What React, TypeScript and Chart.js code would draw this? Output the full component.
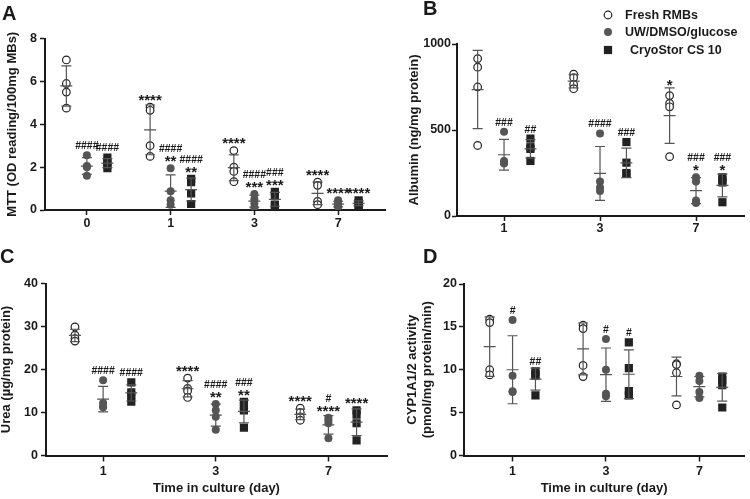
import React, { useEffect, useRef } from "react";
import { Chart, registerables } from "chart.js";

Chart.register(...registerables);

// ---------- data ----------
const seriesNames = ["Fresh RMBs", "UW/DMSO/glucose", "CryoStor CS 10"];
const daysA = ["0", "1", "3", "7"];
const daysBCD = ["1", "3", "7"];

// Panel A: MTT (per day: replicate values)
const freshA = [[7.0, 5.9, 5.5, 4.75], [4.8, 4.65, 3.0, 2.5], [2.77, 2.0, 1.8, 1.32], [1.3, 1.15, 0.4, 0.25]];
const uwA = [[2.55, 2.05, 2.0, 1.6], [1.95, 0.88, 0.45, 0.25], [0.75, 0.5, 0.3, 0.1], [0.45, 0.3, 0.2, 0.15]];
const cryoA = [[2.45, 2.25, 2.1, 1.95], [1.45, 1.3, 0.78, 0.28], [0.85, 0.7, 0.25, 0.2], [0.45, 0.35, 0.25, 0.2]];
const sigA = [["", "####", "####"], ["****", "####\n**", "####\n**"], ["****", "####\n***", "###\n***"], ["****", "****", "****"]];

// Panel B: Albumin
const freshB = [[915, 865, 750, 410], [825, 805, 765, 740], [700, 655, 635, 345]];
const uwB = [[490, 320, 310, 305], [480, 200, 165, 145], [225, 200, 90, 75]];
const cryoB = [[450, 400, 390, 320], [430, 310, 250, 245], [225, 210, 195, 80]];
const sigB = [["", "###", "##"], ["", "####", "###"], ["*", "###\n*", "###\n*"]];

// Panel C: Urea
const freshC = [[29.9, 28.0, 27.2, 26.6], [18.0, 15.6, 15.0, 13.5], [11.0, 10.0, 9.0, 8.2]];
const uwC = [[17.5, 12.2, 11.5, 11.2], [12.0, 10.5, 9.0, 6.0], [8.8, 8.2, 7.5, 4.0]];
const cryoC = [[17.0, 14.7, 14.0, 12.5], [12.5, 11.5, 10.5, 6.5], [10.5, 9.5, 7.5, 3.5]];
const sigC = [["", "####", "####"], ["****", "####\n**", "###\n**"], ["****", "#\n****", "****"]];

// Panel D: CYP1A1/2
const freshD = [[15.9, 15.5, 10.0, 9.4], [15.2, 14.8, 10.5, 9.2], [10.7, 10.6, 9.65, 5.9]];
const uwD = [[15.8, 9.3, 7.5, 7.4], [13.6, 10.0, 7.2, 6.9], [9.3, 8.7, 7.4, 6.7]];
const cryoD = [[9.8, 9.5, 9.3, 7.0], [13.2, 10.2, 7.5, 7.0], [9.2, 8.8, 8.2, 5.6]];
const sigD = [["", "#", "##"], ["", "#", "#"], ["", "", ""]];

// ---------- styling ----------
const FONT = "'Liberation Sans', Arial, Helvetica, sans-serif";
const INK = "#1a1a1a";
const BAR = "#555555";

const markers = [
  { pointStyle: "circle", radius: 3.8, bg: "#ffffff", border: "#222222", bw: 1.2, half: 4.4 },
  { pointStyle: "circle", radius: 4, bg: "#555555", border: "#555555", bw: 0, half: 4 },
  { pointStyle: "rect", radius: 5.8, bg: "#222222", border: "#222222", bw: 0, half: 4.1 },
];

type Panel = {
  letter: string;
  letterPos: [number, number];
  days: string[];
  series: number[][][];
  sig: string[][];
  yMin: number;
  yMax: number;
  yStep: number;
  yTitle: string | string[];
  yTitleLH: number;
  xTitle: string;
  area: { left: number; right: number; top: number; bottom: number };
  xMin: number;
  xMax: number;
  offset: number;
  yW: number;
  xH: number;
  xTick: { len: number; pad: number };
  yTick: { len: number; pad: number };
  legend: boolean;
};

const panels: Panel[] = [
  {
    letter: "A", letterPos: [2, 20], days: daysA, series: [freshA, uwA, cryoA], sig: sigA,
    yMin: 0, yMax: 8, yStep: 2, yTitle: "MTT (OD reading/100mg MBs)", yTitleLH: 1, xTitle: "",
    area: { left: 45, right: 385, top: 38.5, bottom: 210 }, xMin: -0.5, xMax: 3.56, offset: 0.245,
    yW: 39, xH: 30, xTick: { len: 5, pad: 1 }, yTick: { len: 5, pad: 3 }, legend: false,
  },
  {
    letter: "B", letterPos: [423, 15], days: daysBCD, series: [freshB, uwB, cryoB], sig: sigB,
    yMin: 0, yMax: 1000, yStep: 500, yTitle: "Albumin (ng/mg protein)", yTitleLH: 1, xTitle: "",
    area: { left: 457, right: 744, top: 44, bottom: 216 }, xMin: -0.49, xMax: 2.5, offset: 0.275,
    yW: 49.5, xH: 30, xTick: { len: 5, pad: 0 }, yTick: { len: 5, pad: 1 }, legend: true,
  },
  {
    letter: "C", letterPos: [0, 263], days: daysBCD, series: [freshC, uwC, cryoC], sig: sigC,
    yMin: 0, yMax: 40, yStep: 10, yTitle: "Urea (µg/mg protein)", yTitleLH: 1, xTitle: "Time in culture (day)",
    area: { left: 46, right: 387, top: 283.5, bottom: 455.5 }, xMin: -0.507, xMax: 2.52, offset: 0.25,
    yW: 46, xH: 40, xTick: { len: 6, pad: 3 }, yTick: { len: 5, pad: 3 }, legend: false,
  },
  {
    letter: "D", letterPos: [423, 263], days: daysBCD, series: [freshD, uwD, cryoD], sig: sigD,
    yMin: 0, yMax: 20, yStep: 5, yTitle: ["CYP1A1/2 activity", "(pmol/mg protein/min)"], yTitleLH: 1.15,
    xTitle: "Time in culture (day)",
    area: { left: 464, right: 747, top: 284, bottom: 455.5 }, xMin: -0.52, xMax: 2.48, offset: 0.245,
    yW: 59.5, xH: 40, xTick: { len: 6, pad: 3 }, yTick: { len: 5, pad: 2 }, legend: false,
  },
];

const W = 750;
const H = 499;

function mean(a: number[]) {
  return a.reduce((s, v) => s + v, 0) / a.length;
}
function sd(a: number[]) {
  const m = mean(a);
  return Math.sqrt(a.reduce((s, v) => s + (v - m) * (v - m), 0) / (a.length - 1));
}

function drawMarker(ctx: CanvasRenderingContext2D, s: number, x: number, y: number) {
  const mk = markers[s];
  ctx.save();
  if (mk.pointStyle === "rect") {
    const h = mk.radius * Math.SQRT1_2;
    ctx.fillStyle = mk.bg;
    ctx.fillRect(x - h, y - h, 2 * h, 2 * h);
  } else {
    ctx.beginPath();
    ctx.arc(x, y, mk.radius, 0, Math.PI * 2);
    ctx.fillStyle = mk.bg;
    ctx.fill();
    if (mk.bw > 0) {
      ctx.lineWidth = mk.bw;
      ctx.strokeStyle = mk.border;
      ctx.stroke();
    }
  }
  ctx.restore();
}

function overlayPlugin(p: Panel) {
  return {
    id: "overlay" + p.letter,
    afterDatasetsDraw(chart: any) {
      const ctx: CanvasRenderingContext2D = chart.ctx;
      const xs = chart.scales.x;
      const ys = chart.scales.y;
      ctx.save();
      p.series.forEach((ser, s) => {
        ser.forEach((pts, g) => {
          const m = mean(pts);
          const d = sd(pts);
          const cx = xs.getPixelForValue(g + (s - 1) * p.offset);
          const yT = ys.getPixelForValue(m + d);
          const yB = ys.getPixelForValue(m - d);
          const yM = ys.getPixelForValue(m);
          ctx.strokeStyle = BAR;
          ctx.lineWidth = 1.2;
          ctx.beginPath();
          ctx.moveTo(cx, yT);
          ctx.lineTo(cx, yB);
          ctx.moveTo(cx - 5, yT);
          ctx.lineTo(cx + 5, yT);
          ctx.moveTo(cx - 5, yB);
          ctx.lineTo(cx + 5, yB);
          ctx.moveTo(cx - 6, yM);
          ctx.lineTo(cx + 6, yM);
          ctx.stroke();

          const label = p.sig[g] ? p.sig[g][s] : "";
          if (label) {
            const lines = label.split("\n").reverse();
            let bottom = Math.min(ys.getPixelForValue(Math.max(...pts)) - markers[s].half, yT) - 2;
            ctx.fillStyle = INK;
            ctx.textAlign = "center";
            ctx.textBaseline = "alphabetic";
            for (const line of lines) {
              ctx.font = line.includes("*") ? `bold 15px ${FONT}` : `bold 10.5px ${FONT}`;
              const mt = ctx.measureText(line);
              const base = bottom - mt.actualBoundingBoxDescent;
              ctx.fillText(line, cx, base);
              bottom = base - mt.actualBoundingBoxAscent - 4;
            }
          }
        });
      });

      // panel letter
      ctx.fillStyle = INK;
      ctx.font = `bold 20px ${FONT}`;
      ctx.textAlign = "left";
      ctx.textBaseline = "alphabetic";
      ctx.fillText(p.letter, p.letterPos[0], p.letterPos[1]);

      // legend
      if (p.legend) {
        const rowsY = [15, 32, 50];
        const textX = [625, 625, 630];
        ctx.font = `bold 12.5px ${FONT}`;
        ctx.textBaseline = "middle";
        seriesNames.forEach((name, s) => {
          drawMarker(ctx, s, 608, rowsY[s]);
          ctx.fillStyle = INK;
          ctx.fillText(name, textX[s], rowsY[s] + 0.5);
        });
      }
      ctx.restore();
    },
  };
}

function makeConfig(p: Panel): any {
  const datasets = p.series.map((ser, s) => ({
    label: seriesNames[s],
    data: ser.flatMap((pts, g) => pts.map((v) => ({ x: g + (s - 1) * p.offset, y: v }))),
    pointStyle: markers[s].pointStyle,
    pointRadius: markers[s].radius,
    pointBackgroundColor: markers[s].bg,
    pointBorderColor: markers[s].border,
    pointBorderWidth: markers[s].bw,
    showLine: false,
  }));
  const tickFont = { family: FONT, size: 12.5, weight: "bold" as const };
  const gridCommon = {
    display: true,
    drawOnChartArea: false,
    drawTicks: true,
    tickWidth: 1.5,
    tickColor: INK,
    color: INK,
  };
  return {
    type: "scatter",
    data: { datasets },
    options: {
      responsive: false,
      animation: false,
      devicePixelRatio: 1,
      events: [],
      layout: {
        padding: {
          left: p.area.left - p.yW,
          right: W - p.area.right,
          top: p.area.top,
          bottom: H - p.area.bottom - p.xH,
        },
      },
      plugins: { legend: { display: false }, tooltip: { enabled: false } },
      scales: {
        x: {
          type: "linear",
          min: p.xMin,
          max: p.xMax,
          afterBuildTicks: (sc: any) => {
            sc.ticks = p.days.map((_, i) => ({ value: i }));
          },
          afterFit: (sc: any) => {
            sc.height = p.xH;
          },
          ticks: {
            autoSkip: false,
            maxRotation: 0,
            padding: p.xTick.pad,
            color: INK,
            font: tickFont,
            callback: (v: any) => p.days[Math.round(Number(v))] ?? "",
          },
          grid: { ...gridCommon, tickLength: p.xTick.len },
          border: { display: true, color: INK, width: 2 },
          title: p.xTitle
            ? {
                display: true,
                text: p.xTitle,
                color: INK,
                font: { family: FONT, size: 13, weight: "bold", lineHeight: 1 },
                padding: { top: 0, bottom: 1 },
              }
            : { display: false },
        },
        y: {
          type: "linear",
          min: p.yMin,
          max: p.yMax,
          afterFit: (sc: any) => {
            sc.width = p.yW;
          },
          ticks: {
            stepSize: p.yStep,
            padding: p.yTick.pad,
            color: INK,
            font: tickFont,
            callback: (v: any) => String(v),
          },
          grid: { ...gridCommon, tickLength: p.yTick.len },
          border: { display: true, color: INK, width: 2 },
          title: {
            display: true,
            text: p.yTitle,
            color: INK,
            font: { family: FONT, size: 13, weight: "bold", lineHeight: p.yTitleLH },
            padding: { top: 0, bottom: 0 },
          },
        },
      },
    },
    plugins: [overlayPlugin(p)],
  };
}

function PanelChart({ panel }: { panel: Panel }) {
  const ref = useRef<HTMLCanvasElement | null>(null);
  useEffect(() => {
    if (!ref.current) return;
    const chart = new Chart(ref.current, makeConfig(panel));
    return () => chart.destroy();
  }, [panel]);
  return (
    <canvas
      ref={ref}
      width={W}
      height={H}
      style={{ position: "absolute", left: 0, top: 0, width: W, height: H }}
    />
  );
}

export default function App() {
  return (
    <div
      style={{
        position: "fixed",
        left: 0,
        top: 0,
        width: W,
        height: H,
        background: "#ffffff",
        overflow: "hidden",
      }}
    >
      {panels.map((p) => (
        <PanelChart key={p.letter} panel={p} />
      ))}
    </div>
  );
}
